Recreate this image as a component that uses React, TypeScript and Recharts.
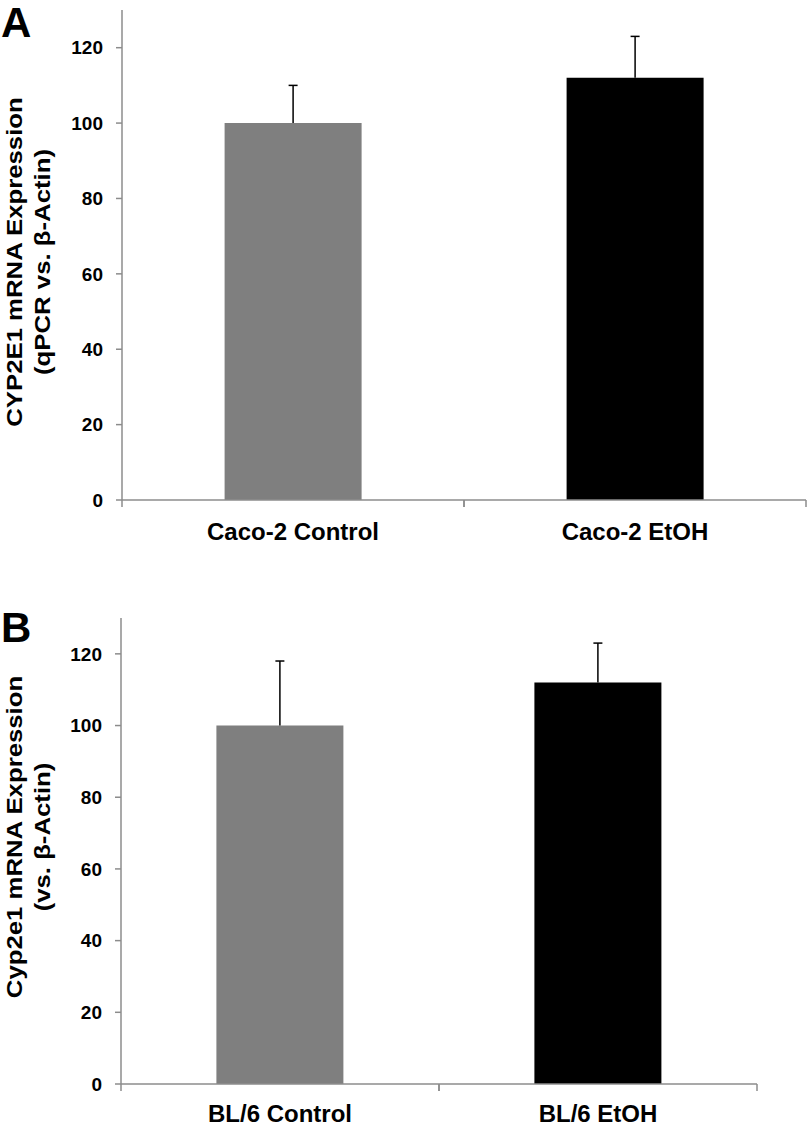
import React from 'react';
import { BarChart, Bar, XAxis, YAxis, Cell } from 'recharts';

// panel A: Caco-2 cells
const panelACategories = ['Caco-2 Control', 'Caco-2 EtOH'];
const panelAMeans = [100, 112];
const panelAErrors = [10, 11];

// panel B: BL/6 mice
const panelBCategories = ['BL/6 Control', 'BL/6 EtOH'];
const panelBMeans = [100, 112];
const panelBErrors = [18, 11];

const barColors = ['#7f7f7f', '#000000'];
const yTicks = [0, 20, 40, 60, 80, 100, 120];

const FONT = '"Liberation Sans", Arial, Helvetica, sans-serif';
const AXIS_GREY = '#8c8c8c';

const buildRows = (cats: string[], means: number[], errs: number[]) =>
  cats.map((name, i) => ({ name, mean: means[i], err: errs[i] }));

// upper-only error whisker, drawn on a stacked transparent bar
const ErrorShape = (props: any) => {
  const { x, y, width, height } = props;
  const cx = x + width / 2;
  return (
    <g>
      <line x1={cx} x2={cx} y1={y + height} y2={y} stroke="#000" strokeWidth={1.5} />
      <line x1={cx - 4.5} x2={cx + 4.5} y1={y} y2={y} stroke="#000" strokeWidth={1.5} />
    </g>
  );
};

// category label + tick marks at the band edges
const makeCategoryTick = (labelDy: number) => (props: any) => {
  const { x, y, payload } = props;
  const half = payload && payload.offset ? payload.offset : 0;
  return (
    <g>
      <line x1={x - half} x2={x - half} y1={y} y2={y + 7} stroke={AXIS_GREY} strokeWidth={1.5} />
      <line x1={x + half} x2={x + half} y1={y} y2={y + 7} stroke={AXIS_GREY} strokeWidth={1.5} />
      <text x={x} y={y + labelDy} textAnchor="middle" fontFamily={FONT} fontWeight="bold" fontSize={24} fill="#000">
        {payload.value}
      </text>
    </g>
  );
};

// two-line rotated axis title, stretched a little along its length like the original
const makeYLabel = (lines: string[], cy: number) => (props: any) => {
  const xs = [14, 42];
  return (
    <g>
      {lines.map((t, i) => (
        <text
          key={i}
          x={0}
          y={0}
          transform={`translate(${xs[i]} ${cy}) rotate(-90) scale(1.12 1)`}
          textAnchor="middle"
          dominantBaseline="central"
          fontFamily={FONT}
          fontWeight="bold"
          fontSize={23}
          fill="#000"
        >
          {t}
        </text>
      ))}
    </g>
  );
};

interface PanelProps {
  rows: { name: string; mean: number; err: number }[];
  width: number;
  height: number;
  margin: { top: number; right: number; bottom: number; left: number };
  yAxisWidth: number;
  xAxisHeight: number;
  labelLines: string[];
  labelCy: number;
  labelDy: number;
}

const Panel: React.FC<PanelProps> = ({ rows, width, height, margin, yAxisWidth, xAxisHeight, labelLines, labelCy, labelDy }) => {
  const Tick = makeCategoryTick(labelDy);
  return (
    <BarChart width={width} height={height} data={rows} margin={margin} barCategoryGap="30%">
      <XAxis
        dataKey="name"
        axisLine={{ stroke: AXIS_GREY, strokeWidth: 1.5 }}
        tickLine={false}
        tickSize={0}
        tickMargin={0}
        height={xAxisHeight}
        interval={0}
        tick={<Tick />}
      />
      <YAxis
        domain={[0, 130]}
        ticks={yTicks}
        width={yAxisWidth}
        axisLine={{ stroke: AXIS_GREY, strokeWidth: 1.5 }}
        tickLine={{ stroke: AXIS_GREY, strokeWidth: 1.5 }}
        tickSize={6}
        tickMargin={13}
        tick={{ fontFamily: FONT, fontWeight: 'bold', fontSize: 19, fill: '#000' }}
        label={{ content: makeYLabel(labelLines, labelCy) }}
      />
      <Bar dataKey="mean" stackId="s" isAnimationActive={false}>
        {rows.map((r, i) => (
          <Cell key={r.name} fill={barColors[i]} />
        ))}
      </Bar>
      <Bar dataKey="err" stackId="s" fill="none" shape={<ErrorShape />} isAnimationActive={false} />
    </BarChart>
  );
};

const letterStyle: React.CSSProperties = {
  position: 'absolute',
  left: 1,
  fontFamily: FONT,
  fontWeight: 'bold',
  fontSize: 42,
  lineHeight: '42px',
  color: '#000',
};

export default function App() {
  const rowsA = buildRows(panelACategories, panelAMeans, panelAErrors);
  const rowsB = buildRows(panelBCategories, panelBMeans, panelBErrors);
  return (
    <div style={{ position: 'absolute', left: 0, top: 0, width: 808, height: 1130, background: '#fff', overflow: 'hidden' }}>
      <div style={{ position: 'absolute', left: 0, top: 0 }}>
        <Panel
          rows={rowsA}
          width={808}
          height={560}
          margin={{ top: 10, right: 2, bottom: 10, left: 0 }}
          yAxisWidth={122}
          xAxisHeight={50}
          labelLines={['CYP2E1 mRNA Expression', '(qPCR vs. β-Actin)']}
          labelCy={262}
          labelDy={40}
        />
      </div>
      <div style={{ position: 'absolute', left: 0, top: 560 }}>
        <Panel
          rows={rowsB}
          width={808}
          height={570}
          margin={{ top: 58, right: 51, bottom: 6, left: 0 }}
          yAxisWidth={121}
          xAxisHeight={40}
          labelLines={['Cyp2e1 mRNA  Expression', '(vs. β-Actin)']}
          labelCy={277}
          labelDy={38}
        />
      </div>
      <div style={{ ...letterStyle, top: 2 }}>A</div>
      <div style={{ ...letterStyle, top: 607 }}>B</div>
    </div>
  );
}
